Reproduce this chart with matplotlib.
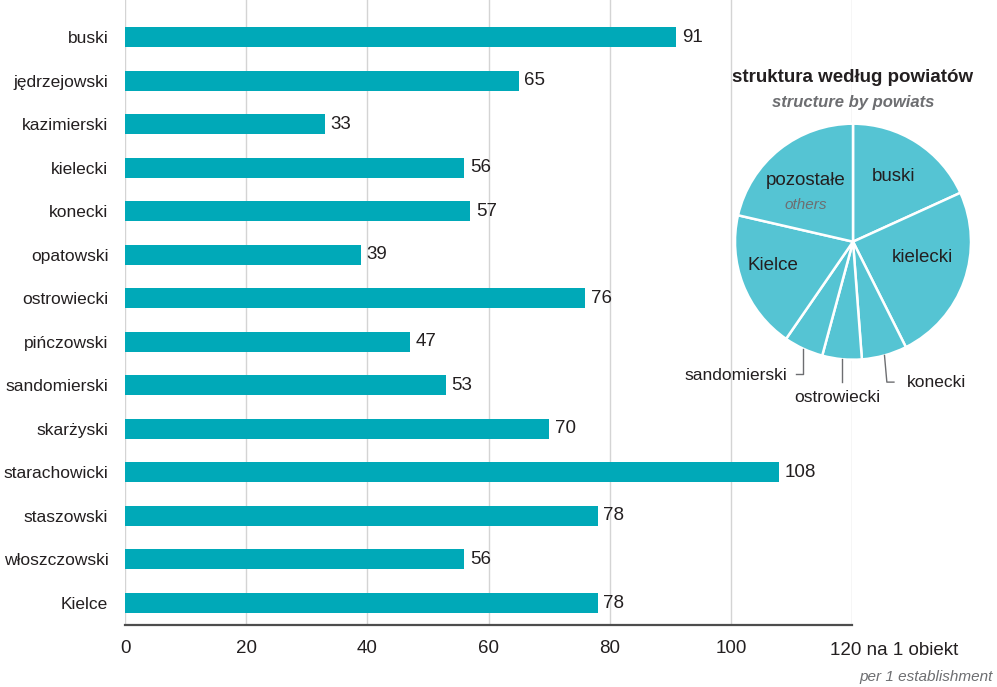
import numpy as np
import matplotlib
matplotlib.use("Agg")
import matplotlib.pyplot as plt

plt.rcParams["font.family"] = ["Liberation Sans", "DejaVu Sans"]

# ── Data ──────────────────────────────────────────────────────────────────────
powiaty = ["buski", "jędrzejowski", "kazimierski", "kielecki", "konecki",
           "opatowski", "ostrowiecki", "pińczowski", "sandomierski", "skarżyski",
           "starachowicki", "staszowski", "włoszczowski", "Kielce"]
values = [91, 65, 33, 56, 57, 39, 76, 47, 53, 70, 108, 78, 56, 78]
x_ticks = [0, 20, 40, 60, 80, 100, 120]

pie_labels = ["buski", "kielecki", "konecki", "ostrowiecki", "sandomierski",
              "Kielce", "pozostałe"]
pie_shares = [18.2, 24.4, 6.2, 5.4, 5.4, 19.0, 21.4]

BAR = "#00A9B8"
PIE = "#55C4D3"
TXT = "#231F20"
GREY = "#6D6E71"
FS = 12.5
FS_NUM = 13.5

W, H = 997, 687
fig = plt.figure(figsize=(W / 100, H / 100), dpi=100)

# ── Bar chart ─────────────────────────────────────────────────────────────────
ax = fig.add_axes([125 / W, 62 / H, 727 / W, 625 / H])
y = np.arange(len(powiaty))
ax.barh(y, values, height=0.46, color=BAR, zorder=3)
for yi, v in zip(y, values):
    ax.annotate(str(v), (v, yi), xytext=(4, 0), textcoords="offset points",
                va="center", ha="left", fontsize=FS_NUM, color=TXT)

ax.set_xlim(0, 120)
ax.set_ylim(13.505, -0.85)
ax.set_yticks(y)
ax.set_yticklabels(powiaty, fontsize=FS, color=TXT)
ax.set_xticks(x_ticks)
ax.set_xticklabels([str(t) for t in x_ticks[:-1]] + [""], fontsize=FS_NUM, color=TXT)
ax.tick_params(length=0, pad=11)
ax.tick_params(axis="y", pad=12)
ax.grid(axis="x", color="#D4D4D4", lw=1, zorder=0)
ax.grid(axis="y", visible=False)
for s in ["top", "right", "left"]:
    ax.spines[s].set_visible(False)
ax.spines["bottom"].set_color("#4D4D4D")
ax.spines["bottom"].set_linewidth(1.6)
ax.spines["bottom"].set_zorder(4)

ax.annotate("120 na 1 obiekt", (120, 0), xycoords=("data", "axes fraction"),
            xytext=(-16, -12), textcoords="offset points", ha="left", va="top",
            fontsize=FS_NUM, color=TXT)
fig.text(993 / W, 1 - 677 / H, "per 1 establishment", ha="right", va="center",
         fontsize=11, style="italic", color=GREY)

# ── Pie inset ─────────────────────────────────────────────────────────────────
R = 118
cx, cy = 853, 241.7
half = 150
pax = fig.add_axes([(cx - half) / W, 1 - (cy + half) / H, 2 * half / W, 2 * half / H])
wedges, _ = pax.pie(pie_shares, startangle=90, counterclock=False, colors=[PIE] * 7,
                    wedgeprops=dict(edgecolor="white", linewidth=1.8))
lim = half / R
pax.set_xlim(-lim, lim)
pax.set_ylim(-lim, lim)
pax.set_aspect("equal")
pax.axis("off")

inside = {"buski": (0.34, 0.55), "kielecki": (0.59, -0.13), "Kielce": (-0.68, -0.20),
          "pozostałe": (-0.40, 0.52)}
for name, (px, py) in inside.items():
    pax.text(px, py, name, ha="center", va="center", fontsize=FS_NUM, color=TXT)
pax.text(-0.40, 0.31, "others", ha="center", va="center", fontsize=11,
         style="italic", color=GREY)

# leader lines for small slices
mids = {}
for w, name in zip(wedges, pie_labels):
    mids[name] = np.deg2rad((w.theta1 + w.theta2) / 2)

a = mids["sandomierski"]
x0, y0 = np.cos(a), np.sin(a)
pax.plot([x0, x0, x0 - 0.06], [y0, -1.12, -1.12], color=GREY, lw=1, clip_on=False)
pax.text(-0.56, -1.13, "sandomierski", ha="right", va="center", fontsize=FS, color=TXT)

a = mids["ostrowiecki"]
x0, y0 = np.cos(a), np.sin(a)
pax.plot([x0, x0], [y0, -1.19], color=GREY, lw=1, clip_on=False)
pax.text(-0.13, -1.32, "ostrowiecki", ha="center", va="center", fontsize=FS, color=TXT)

a = mids["konecki"]
x0, y0 = np.cos(a), np.sin(a)
pax.plot([x0, x0 + 0.02, x0 + 0.08], [y0, -1.19, -1.19], color=GREY, lw=1, clip_on=False)
pax.text(0.46, -1.19, "konecki", ha="left", va="center", fontsize=FS, color=TXT)

fig.text(cx / W, 1 - 78 / H, "struktura według powiatów", ha="center", va="center",
         fontsize=13.5, fontweight="bold", color=TXT)
fig.text(cx / W, 1 - 103 / H, "structure by powiats", ha="center", va="center",
         fontsize=12, fontweight="bold", style="italic", color=GREY)

fig.savefig("out.png", dpi=100)
